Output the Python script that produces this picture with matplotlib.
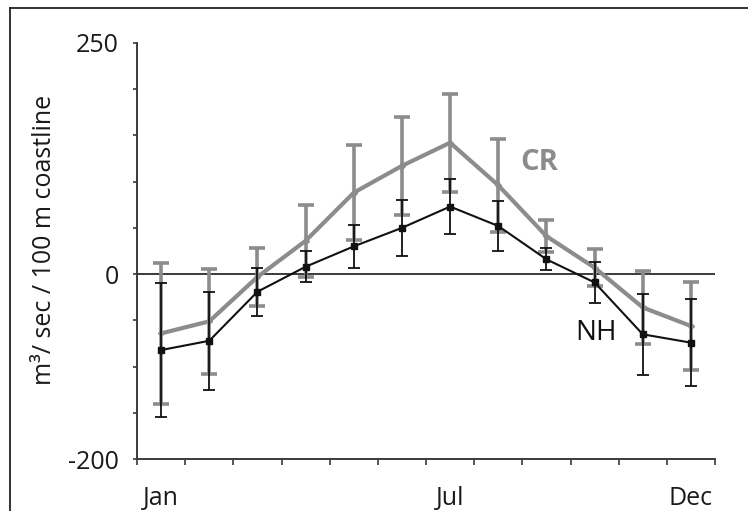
import matplotlib
matplotlib.use("Agg")
import matplotlib.pyplot as plt
from matplotlib.lines import Line2D

plt.rcParams['font.family'] = ['Open Sans', 'DejaVu Sans']

months = ['Jan', 'Feb', 'Mar', 'Apr', 'May', 'Jun',
          'Jul', 'Aug', 'Sep', 'Oct', 'Nov', 'Dec']
shown_months = ['Jan', 'Jul', 'Dec']

cr_mean = [-64, -51, -3, 36, 88, 117, 142, 96, 41, 7, -36, -56]
cr_err = [76, 57, 31, 39, 51, 53, 53, 50, 17, 20, 39, 48]
nh_mean = [-82, -72, -19, 8, 30, 50, 73, 52, 16, -9, -65, -74]
nh_err = [72, 53, 26, 17, 23, 30, 30, 27, 12, 22, 44, 47]

gray = '#8c8c8c'
dark = '#111111'
axis_col = '#3a3a3a'
text_col = '#1a1a1a'

fig = plt.figure(figsize=(7.48, 5.11), dpi=100)
ax = fig.add_axes([0.1832, 0.1012, 0.7727, 0.8152])

x = [i + 0.5 for i in range(len(months))]

# CR behind, NH on top
ax.errorbar(x, cr_mean, yerr=cr_err, color=gray, lw=3.0, elinewidth=2.6,
            capsize=5.5, capthick=2.6, marker='D', ms=3, zorder=2)
ax.errorbar(x, nh_mean, yerr=nh_err, color=dark, lw=1.5, elinewidth=1.3,
            capsize=4.5, capthick=1.3, marker='s', ms=5, zorder=3)

ax.axhline(0, color=axis_col, lw=1.4, zorder=1)

ax.set_xlim(0, 12)
ax.set_ylim(-200, 250)

for s in ['top', 'right']:
    ax.spines[s].set_visible(False)
for s in ['left', 'bottom']:
    ax.spines[s].set_color(axis_col)
    ax.spines[s].set_linewidth(1.4)

ax.set_yticks(range(-200, 251, 50))
ax.set_yticklabels(['-200' if v == -200 else ('0' if v == 0 else ('250' if v == 250 else ''))
                    for v in range(-200, 251, 50)])
ax.tick_params(axis='y', direction='out', length=3, width=1.2, color=axis_col,
               labelsize=18, pad=10, labelcolor=text_col)

ax.set_xticks(range(0, 13))
ax.set_xticklabels([])
ax.tick_params(axis='x', which='major', direction='out', length=4, width=1.2,
               color=axis_col)
ax.set_xticks([months.index(m) + 0.5 for m in shown_months], minor=True)
ax.set_xticklabels(shown_months, minor=True)
ax.tick_params(axis='x', which='minor', length=0, labelsize=18, pad=19,
               labelcolor=text_col)

ax.text(8.35, 121, 'CR', color=gray, fontsize=21, fontweight='bold',
        ha='center', va='center')
ax.text(9.53, -64, 'NH', color=dark, fontsize=20, ha='center', va='center')

fig.text(0.06, 0.53, 'm³/ sec / 100 m coastline', rotation=90, fontsize=18,
         ha='center', va='center', color=text_col)

# frame around the figure (cropped on the right and bottom)
fig.add_artist(Line2D([10 / 748, 1], [1 - 8 / 511, 1 - 8 / 511],
                      transform=fig.transFigure, color='#222222', lw=1.3))
fig.add_artist(Line2D([10 / 748, 10 / 748], [0, 1 - 8 / 511],
                      transform=fig.transFigure, color='#222222', lw=1.3))

fig.savefig('out.png', dpi=100)
